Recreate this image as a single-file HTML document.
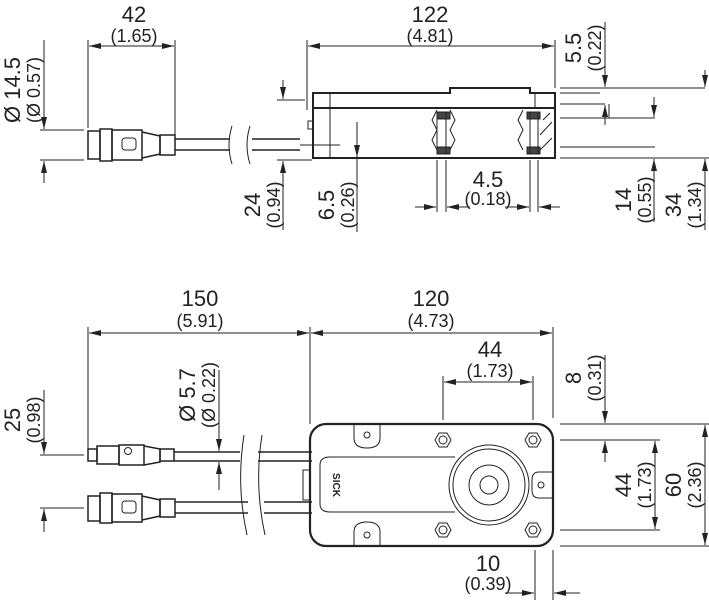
<!DOCTYPE html>
<html><head><style>body{margin:0;background:#fff}svg{display:block}text{font-family:"Liberation Sans",sans-serif;fill:#222}</style></head><body>
<svg width="709" height="600" viewBox="0 0 709 600" xmlns="http://www.w3.org/2000/svg">
<defs>
<marker id="a" viewBox="0 0 12 6" refX="12" refY="3" markerWidth="12" markerHeight="6" orient="auto-start-reverse" markerUnits="userSpaceOnUse"><path d="M0,0L12,3L0,6z" fill="#222"/></marker>
</defs>
<g stroke="#222" stroke-width="1" fill="none">
<line x1="88" y1="40" x2="88" y2="128"/><line x1="175" y1="40" x2="175" y2="136"/>
<line x1="89" y1="46" x2="174" y2="46" marker-start="url(#a)" marker-end="url(#a)"/>
<line x1="307" y1="40" x2="307" y2="110"/><line x1="555" y1="40" x2="555" y2="88"/>
<line x1="308" y1="46" x2="554" y2="46" marker-start="url(#a)" marker-end="url(#a)"/>
<line x1="40" y1="130" x2="84" y2="130"/><line x1="40" y1="160" x2="84" y2="160"/>
<line x1="44" y1="40" x2="44" y2="129" marker-end="url(#a)"/><line x1="44" y1="183" x2="44" y2="161" marker-end="url(#a)"/>
<rect x="88" y="131" width="12" height="28" stroke-width="1.5"/>
<rect x="100" y="129" width="12" height="32" stroke-width="1.5"/>
<rect x="112" y="130" width="30" height="30" stroke-width="1.5"/>
<rect x="122" y="138" width="14" height="12" rx="3"/>
<path d="M142,132 L160,136 L160,154 L142,158" stroke-width="1.5"/>
<rect x="160" y="135" width="15" height="20" stroke-width="1.5"/>
<path d="M175,139H230M175,150H230M252,139H300M252,150H300" stroke-width="1.5"/>
<path d="M232,126Q226,145 232,164M250,126Q244,145 250,164"/>
<line x1="283" y1="80" x2="283" y2="99" marker-end="url(#a)"/><line x1="283" y1="230" x2="283" y2="161" marker-end="url(#a)"/>
<line x1="277" y1="100" x2="305" y2="100"/><line x1="277" y1="160" x2="312" y2="160"/>
<path d="M313,93H450V88H530V93H555V108H313Z" stroke-width="2"/>
<path d="M313,108V158H555V108" stroke-width="2"/>
<line x1="535" y1="93" x2="535" y2="108"/>
<line x1="330" y1="93" x2="330" y2="158"/>
<rect x="308" y="121" width="5" height="8"/>
<path d="M437,110 l-5,10 l5,10 l-5,10 l5,10 M450,110 l5,10 l-5,10 l5,10 l-5,10"/>
<path d="M523,110 l-5,10 l5,10 l-5,10 l5,10"/>
<rect x="437" y="112" width="13" height="7" fill="#444"/><rect x="437" y="147" width="13" height="7" fill="#444"/>
<rect x="527" y="112" width="13" height="7" fill="#444"/><rect x="527" y="147" width="13" height="7" fill="#444"/>
<path d="M540,150L552,138M540,135L552,122M543,120L550,113"/>
<line x1="437" y1="112" x2="437" y2="154"/><line x1="446" y1="112" x2="446" y2="154"/>
<line x1="530" y1="112" x2="530" y2="154"/><line x1="538" y1="112" x2="538" y2="154"/>
<line x1="357" y1="122" x2="357" y2="157" marker-end="url(#a)"/><line x1="357" y1="159" x2="357" y2="232"/>
<line x1="300" y1="145" x2="340" y2="145"/>
<line x1="437" y1="160" x2="437" y2="212"/><line x1="446" y1="160" x2="446" y2="212"/>
<line x1="530" y1="160" x2="530" y2="212"/><line x1="538" y1="160" x2="538" y2="212"/>
<line x1="415" y1="207" x2="436" y2="207" marker-end="url(#a)"/><line x1="470" y1="207" x2="447" y2="207" marker-end="url(#a)"/>
<line x1="505" y1="207" x2="529" y2="207" marker-end="url(#a)"/><line x1="560" y1="207" x2="539" y2="207" marker-end="url(#a)"/>
<path d="M560,88H705M560,93H600M560,104H605M560,118H655M560,147H655M560,158H709"/>
<line x1="605" y1="22" x2="605" y2="87" marker-end="url(#a)"/><line x1="605" y1="125" x2="605" y2="105" marker-end="url(#a)"/><line x1="609" y1="104" x2="609" y2="118"/>
<line x1="654" y1="97" x2="654" y2="117" marker-end="url(#a)"/><line x1="654" y1="222" x2="654" y2="159" marker-end="url(#a)"/>
<line x1="705" y1="70" x2="705" y2="87" marker-end="url(#a)"/><line x1="705" y1="230" x2="705" y2="159" marker-end="url(#a)"/>
<line x1="88" y1="327" x2="88" y2="450"/><line x1="310" y1="327" x2="310" y2="424"/><line x1="553" y1="327" x2="553" y2="418"/>
<line x1="89" y1="333" x2="309" y2="333" marker-start="url(#a)" marker-end="url(#a)"/>
<line x1="311" y1="333" x2="552" y2="333" marker-start="url(#a)" marker-end="url(#a)"/>
<line x1="443" y1="376" x2="443" y2="420"/><line x1="533" y1="376" x2="533" y2="420"/>
<line x1="444" y1="382" x2="532" y2="382" marker-start="url(#a)" marker-end="url(#a)"/>
<path d="M560,424H709M560,440H660M560,530H660M560,546H709"/>
<line x1="605" y1="355" x2="605" y2="423" marker-end="url(#a)"/><line x1="605" y1="462" x2="605" y2="441" marker-end="url(#a)"/>
<line x1="655" y1="441" x2="655" y2="529" marker-start="url(#a)" marker-end="url(#a)"/>
<line x1="705" y1="425" x2="705" y2="545" marker-start="url(#a)" marker-end="url(#a)"/>
<line x1="44" y1="390" x2="44" y2="454" marker-end="url(#a)"/><line x1="44" y1="532" x2="44" y2="509" marker-end="url(#a)"/>
<line x1="40" y1="455" x2="84" y2="455"/><line x1="40" y1="508" x2="84" y2="508"/>
<line x1="219" y1="370" x2="219" y2="451" marker-end="url(#a)"/><line x1="219" y1="490" x2="219" y2="462" marker-end="url(#a)"/>
<line x1="535" y1="550" x2="535" y2="600"/><line x1="553" y1="550" x2="553" y2="600"/>
<line x1="505" y1="593" x2="534" y2="593" marker-end="url(#a)"/><line x1="580" y1="593" x2="554" y2="593" marker-end="url(#a)"/>
<rect x="88" y="449" width="9" height="12" stroke-width="1.5"/>
<rect x="97" y="446" width="22" height="18" stroke-width="1.5"/>
<rect x="119" y="445" width="25" height="20" stroke-width="1.5"/>
<circle cx="128" cy="451" r="3.5"/>
<path d="M144,446L160,449V462L144,465" stroke-width="1.5"/>
<rect x="160" y="449" width="14" height="12" stroke-width="1.5"/>
<path d="M174,452H240M174,461H240M258,452H312M258,461H312" stroke-width="1.5"/>
<rect x="88" y="496" width="12" height="25" stroke-width="1.5"/>
<rect x="100" y="493" width="12" height="30" stroke-width="1.5"/>
<rect x="112" y="494" width="30" height="28" stroke-width="1.5"/>
<rect x="122" y="501" width="14" height="12" rx="3"/>
<path d="M142,496L160,500V516L142,520" stroke-width="1.5"/>
<rect x="160" y="499" width="15" height="18" stroke-width="1.5"/>
<path d="M175,502H248M175,513H248M264,502H312M264,513H312" stroke-width="1.5"/>
<path d="M244,435Q236,485 247,535M262,435Q254,485 265,535"/>
<rect x="303" y="470" width="7" height="30"/>
<rect x="310" y="424" width="243" height="122" rx="16" stroke-width="2.2"/>
<path d="M455,457H330Q320,457 320,465V504Q320,512 330,512H455"/>
<circle cx="489" cy="485" r="40"/><circle cx="489" cy="485" r="36"/><circle cx="489" cy="485" r="20"/><circle cx="489" cy="485" r="9"/>
<path d="M354,425V438Q354,448 367,448Q380,448 380,438V425"/><circle cx="367" cy="435" r="3"/>
<path d="M354,545V532Q354,522 367,522Q380,522 380,532V545"/><circle cx="367" cy="535" r="3"/>
<path d="M553,472H539Q532,472 532,480V490Q532,498 539,498H553"/><circle cx="541" cy="485" r="3"/>
<polygon points="435,440 439,433 447,433 451,440 447,447 439,447"/><circle cx="443" cy="440" r="4"/>
<polygon points="525,440 529,433 537,433 541,440 537,447 529,447"/><circle cx="533" cy="440" r="4"/>
<polygon points="435,530 439,523 447,523 451,530 447,537 439,537"/><circle cx="443" cy="530" r="4"/>
<polygon points="525,530 529,523 537,523 541,530 537,537 529,537"/><circle cx="533" cy="530" r="4"/>
</g>
<text x="336" y="485" font-size="10" font-weight="bold" text-anchor="middle" transform="rotate(90 336 485)" dy="3">SICK</text>
<g font-size="22" text-anchor="middle">
<text x="134" y="22">42</text><text x="430" y="22">122</text>
<text x="488" y="187">4.5</text>
<text x="200" y="306">150</text><text x="431" y="306">120</text>
<text x="490" y="357">44</text><text x="488" y="571">10</text>
</g>
<g font-size="18" text-anchor="middle">
<text x="134" y="42">(1.65)</text><text x="430" y="42">(4.81)</text>
<text x="488" y="205">(0.18)</text>
<text x="200" y="327">(5.91)</text><text x="431" y="327">(4.73)</text>
<text x="490" y="377">(1.73)</text><text x="488" y="590">(0.39)</text>
</g>
<g text-anchor="middle">
<g transform="translate(20,90) rotate(-90)"><text font-size="22" y="0">Ø 14.5</text><text font-size="18" y="20">(Ø 0.57)</text></g>
<g transform="translate(260,205) rotate(-90)"><text font-size="22" y="0">24</text><text font-size="18" y="20">(0.94)</text></g>
<g transform="translate(334,205) rotate(-90)"><text font-size="22" y="0">6.5</text><text font-size="18" y="20">(0.26)</text></g>
<g transform="translate(581,48) rotate(-90)"><text font-size="22" y="0">5.5</text><text font-size="18" y="20">(0.22)</text></g>
<g transform="translate(631,200) rotate(-90)"><text font-size="22" y="0">14</text><text font-size="18" y="20">(0.55)</text></g>
<g transform="translate(681,205) rotate(-90)"><text font-size="22" y="0">34</text><text font-size="18" y="20">(1.34)</text></g>
<g transform="translate(20,420) rotate(-90)"><text font-size="22" y="0">25</text><text font-size="18" y="20">(0.98)</text></g>
<g transform="translate(195,395) rotate(-90)"><text font-size="22" y="0">Ø 5.7</text><text font-size="18" y="20">(Ø 0.22)</text></g>
<g transform="translate(581,378) rotate(-90)"><text font-size="22" y="0">8</text><text font-size="18" y="20">(0.31)</text></g>
<g transform="translate(631,485) rotate(-90)"><text font-size="22" y="0">44</text><text font-size="18" y="20">(1.73)</text></g>
<g transform="translate(681,485) rotate(-90)"><text font-size="22" y="0">60</text><text font-size="18" y="20">(2.36)</text></g>
</g>
</svg>
</body></html>
